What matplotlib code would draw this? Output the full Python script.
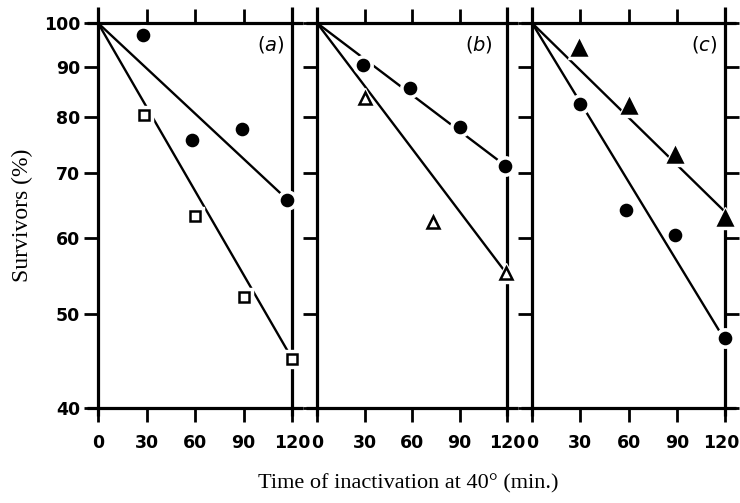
import matplotlib
matplotlib.use("Agg")
import matplotlib.pyplot as plt
from matplotlib.ticker import FixedLocator, NullLocator
from matplotlib.transforms import ScaledTranslation

# ---- data ----
time_ticks = [0, 30, 60, 90, 120]
y_ticks = [40, 50, 60, 70, 80, 90, 100]
panel_labels = ["a", "b", "c"]

# panel (a)
a_circ_t = [28, 58, 89, 117]
a_circ_v = [97.3, 75.7, 77.7, 65.6]
a_sq_t = [28.5, 60, 90, 120]
a_sq_v = [80.3, 63.2, 52.1, 45.0]
a_line_circ = [100, 65.0]
a_line_sq = [100, 45.0]

# panel (b)
b_circ_t = [29, 59, 90, 119]
b_circ_v = [90.5, 85.6, 78.1, 71.2]
b_tri_t = [30, 73.5, 119.5]
b_tri_v = [83.6, 62.3, 55.1]
b_line_circ = [100, 71.0]
b_line_tri = [100, 55.0]

# panel (c)
c_tri_t = [29, 60, 89, 120]
c_tri_v = [94.3, 82.1, 73.0, 62.9]
c_circ_t = [30, 58.5, 89, 120]
c_circ_v = [82.5, 64.1, 60.4, 47.3]
c_line_tri = [100, 63.8]
c_line_circ = [100, 47.0]
line_t = [0, 120]

plt.rcParams['mathtext.fontset'] = 'dejavusans'

fig = plt.figure(figsize=(7.4, 5.03), dpi=100)
W, H = 740, 503
bounds_px = [(98, 292), (317, 507), (532, 725)]
top_px, bot_px = 23, 408
axes = []
for (l, r) in bounds_px:
    ax = fig.add_axes([l / W, 1 - bot_px / H, (r - l) / W, (bot_px - top_px) / H])
    axes.append(ax)

tick_font = dict(family='DejaVu Sans', weight='bold', size=12.5)
label_x = [0.962, 0.925, 0.958]

def style(ax, i):
    ax.set_yscale('log')
    ax.set_ylim(40, 100)
    ax.set_xlim(0, 120)
    ax.yaxis.set_major_locator(FixedLocator(y_ticks))
    ax.yaxis.set_minor_locator(NullLocator())
    ax.xaxis.set_major_locator(FixedLocator(time_ticks))
    for s in ax.spines.values():
        s.set_linewidth(2.3)
        s.set_capstyle('butt')
    ax.spines['left'].set_bounds(39.2, 104)
    ax.spines['right'].set_bounds(39.2, 104)
    ax.spines['top'].set_bounds(-7, 127)
    ax.spines['bottom'].set_bounds(-7, 127)
    ax.tick_params(axis='both', which='major', direction='out', length=10, width=2,
                   top=True, bottom=True, left=True, right=(i == 2),
                   labelleft=(i == 0), labelbottom=True, pad=3)
    ax.tick_params(axis='x', pad=9)
    ax.set_xticklabels([str(t) for t in time_ticks], fontdict=tick_font)
    ax.set_yticklabels([str(t) for t in y_ticks], fontdict=tick_font)
    ax.text(label_x[i], 0.945, r'$(\mathit{%s})$' % panel_labels[i], transform=ax.transAxes,
            ha='right', va='center', fontsize=14)

def series(ax, lt, lv, t, v, marker, filled, ms):
    ax.plot(lt, lv, color='black', lw=1.7, solid_capstyle='butt', zorder=2)
    ax.plot(t, v, linestyle='none', marker=marker, ms=ms + 6, mfc='white', mec='white',
            zorder=3, clip_on=False)
    ax.plot(t, v, linestyle='none', marker=marker, ms=ms,
            mfc='black' if filled else 'white', mec='black', mew=1.8,
            zorder=4, clip_on=False)

for i, ax in enumerate(axes):
    style(ax, i)

# keep the last "120" inside the canvas
last = axes[2].get_xticklabels()[-1]
last.set_transform(last.get_transform() + ScaledTranslation(-4 / 100, 0, fig.dpi_scale_trans))

series(axes[0], line_t, a_line_circ, a_circ_t, a_circ_v, 'o', True, 8)
series(axes[0], line_t, a_line_sq, a_sq_t, a_sq_v, 's', False, 6.5)
series(axes[1], line_t, b_line_circ, b_circ_t, b_circ_v, 'o', True, 8)
series(axes[1], line_t, b_line_tri, b_tri_t, b_tri_v, '^', False, 8)
series(axes[2], line_t, c_line_tri, c_tri_t, c_tri_v, '^', True, 9.5)
series(axes[2], line_t, c_line_circ, c_circ_t, c_circ_v, 'o', True, 8)

fig.text(22 / W, 1 - 215 / H, 'Survivors (%)', rotation=90, ha='center', va='center',
         family='Liberation Serif', fontsize=17)
fig.text(408 / W, 1 - 484 / H, 'Time of inactivation at 40° (min.)', ha='center', va='center',
         family='Liberation Serif', fontsize=16)

fig.savefig('out.png', dpi=100)
